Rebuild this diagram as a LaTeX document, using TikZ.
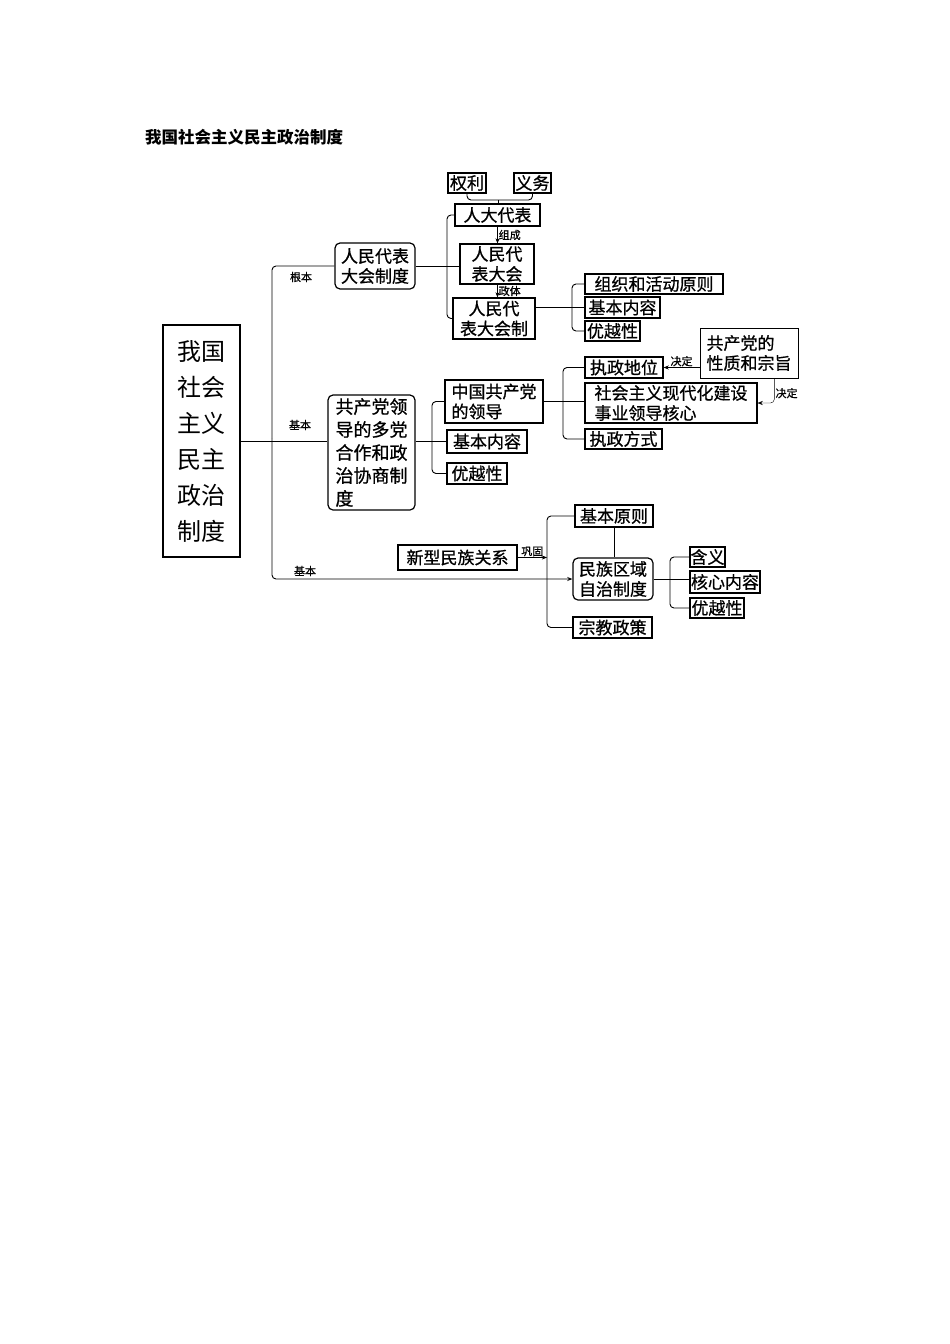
\documentclass[tikz,border=0pt]{standalone}
\usepackage{fontspec}
\newfontfamily\cjk{Noto Sans CJK SC}
\newfontfamily\cjkdick{Noto Sans CJK SC}[FakeBold=0.8]
\usetikzlibrary{positioning, calc}
\usetikzlibrary{arrows, arrows.meta}
\tikzset{myarrow/.style={-{Stealth[length=1.8mm, width=1.4mm]}}}
\tikzset{kasten/.style={inner sep=0pt, draw, line width=1.2pt, align=center, font=\cjkdick\fontsize{17}{20}\selectfont}}
\tikzset{rundkasten/.style={kasten, rounded corners=5pt}}
\tikzset{beschriftung/.style={font=\cjkdick\fontsize{11}{0}\selectfont, inner sep=1pt}}
\tikzset{linie/.style={line width=0.9pt, rounded corners=4pt}}

\begin{document}
\begin{tikzpicture}[x=1pt, y=-1pt]
		\useasboundingbox (0,0) rectangle (950,1344);
		
		\node[anchor=west, inner sep=0pt, font=\cjk\bfseries\fontsize{16.5}{0}\selectfont] (titel) at (145,137) {我国社会主义民主政治制度};
		
		\node[kasten, minimum width=77, minimum height=232, font=\cjk\fontsize{24}{36}\selectfont] (wurzel) at (201.5,441) {我国\\社会\\主义\\民主\\政治\\制度};
		
		% RENMIN DAIBIAO DAHUI
		\node[rundkasten, minimum width=80, minimum height=46] (rdz) at (375,266) {人民代表\\大会制度};
		\node[kasten, minimum width=38, minimum height=20] (quanli) at (467,183) {权利};
		\node[kasten, minimum width=37, minimum height=20] (yiwu) at (532.5,183) {义务};
		\node[kasten, minimum width=85, minimum height=22] (rddb) at (497.5,215) {人大代表};
		\node[kasten, minimum width=74, minimum height=40] (rdh) at (497,264) {人民代\\表大会};
		\node[kasten, minimum width=82, minimum height=41] (rdzhi) at (494,318.5) {人民代\\表大会制};
		\node[kasten, minimum width=138, minimum height=20] (zzhd) at (654,284) {组织和活动原则};
		\node[kasten, minimum width=75, minimum height=21] (jbnr) at (622.5,307.5) {基本内容};
		\node[kasten, minimum width=55, minimum height=20] (yyx) at (612.5,331) {优越性};
		
		\coordinate (qy) at (498,200);
		\draw[linie] (quanli.south) |- (qy) -| (yiwu.south);
		\draw[linie] (qy) -- (qy |- rddb.north);
		\draw[myarrow, thin] (rddb.south) -- node[right, beschriftung]{组成} (rddb.south |- rdh.north);
		\draw[myarrow, thin] (rddb.south |- rdh.south) -- node[right, beschriftung]{政体} (rddb.south |- rdzhi.north);
		\draw[linie] (rddb.west) -| (447,266) |- (rdzhi.west);
		\draw[linie] (rdz.east) -- (rdz.east -| rdh.west);
		\draw[thin] (rdzhi.east |- jbnr.west) -- (jbnr.west);
		\draw[linie] (zzhd.west) -| (572,307) |- (yyx.west);
		
		% DUODANG HEZUO
		\node[rundkasten, minimum width=87, minimum height=115, align=left, font=\cjkdick\fontsize{18}{23}\selectfont] (dp) at (371.5,452.5) {共产党领\\导的多党\\合作和政\\治协商制\\度};
		\node[kasten, minimum width=98, minimum height=43, align=left] (zg) at (494,401.5) {中国共产党\\的领导};
		\node[kasten, minimum width=80, minimum height=23] (jb2) at (487,441.5) {基本内容};
		\node[kasten, minimum width=60, minimum height=21] (yy2) at (477,473.5) {优越性};
		\node[kasten, minimum width=78, minimum height=21] (zd) at (624,367.5) {执政地位};
		\node[kasten, minimum width=172, minimum height=40, align=left] (sh) at (671,403) {社会主义现代化建设\\事业领导核心};
		\node[kasten, minimum width=77, minimum height=20] (zf) at (623.5,439) {执政方式};
		\node[kasten, minimum width=98, minimum height=50, line width=0.8pt, align=left] (xz) at (749,353) {共产党的\\性质和宗旨};
		
		\draw[linie] (wurzel.east) -- (wurzel.east -| dp.west);
		\draw[thin] (dp.east |- jb2.west) -- (jb2.west);
		\draw[linie] (zg.west) -| (432,441) |- (yy2.west);
		\draw[thin] (zg.east) -- (zg.east -| sh.west);
		\draw[linie] (zd.west) -| (563,403) |- (zf.west);
		\draw[myarrow, thin] (xz.west |- zd.east) -- node[above, beschriftung]{决定} (zd.east);
		\draw[myarrow, linie, thin] ($(xz.south east)+(-24,0)$) |- node[pos=0.3, right, beschriftung]{决定} (sh.east);
		
		% MINZU QUYU ZIZHI
		\node[kasten, minimum width=119, minimum height=25] (xm) at (457.5,557.5) {新型民族关系};
		\node[kasten, minimum width=78, minimum height=22] (jbyz) at (614,516) {基本原则};
		\node[rundkasten, minimum width=80, minimum height=42] (mz) at (613,579) {民族区域\\自治制度};
		\node[kasten, minimum width=79, minimum height=21] (zj) at (612.5,627.5) {宗教政策};
		\node[kasten, minimum width=35, minimum height=20] (hy) at (707.5,557) {含义};
		\node[kasten, minimum width=70, minimum height=22] (hx) at (725,582) {核心内容};
		\node[kasten, minimum width=54, minimum height=20] (yy3) at (717,608) {优越性};
		
		\coordinate (mzklammer) at (547,580);
		\draw[linie] (jbyz.west) -| (mzklammer) |- (zj.west);
		\draw[myarrow, thin] (xm.east) -- node[above, beschriftung]{巩固} (xm.east -| mzklammer);
		\draw[thin] (jbyz.south) -- (jbyz.south |- mz.north);
		\draw[thin] (mz.east) -- (mz.east -| hx.west);
		\draw[linie] (hy.west) -| (670,582) |- (yy3.west);
		
		% STAMM
		\coordinate (stamm) at (272,438);
		\draw[linie] (rdz.west) -| (stamm);
		\draw[linie, myarrow] (stamm) |- (mz.west);
		\node[beschriftung] (lgb) at (301,277) {根本};
		\node[beschriftung] (ljb) at (300,425) {基本};
		\node[beschriftung] (ljb2) at (305,571) {基本};
		
	\end{tikzpicture}
\end{document}
